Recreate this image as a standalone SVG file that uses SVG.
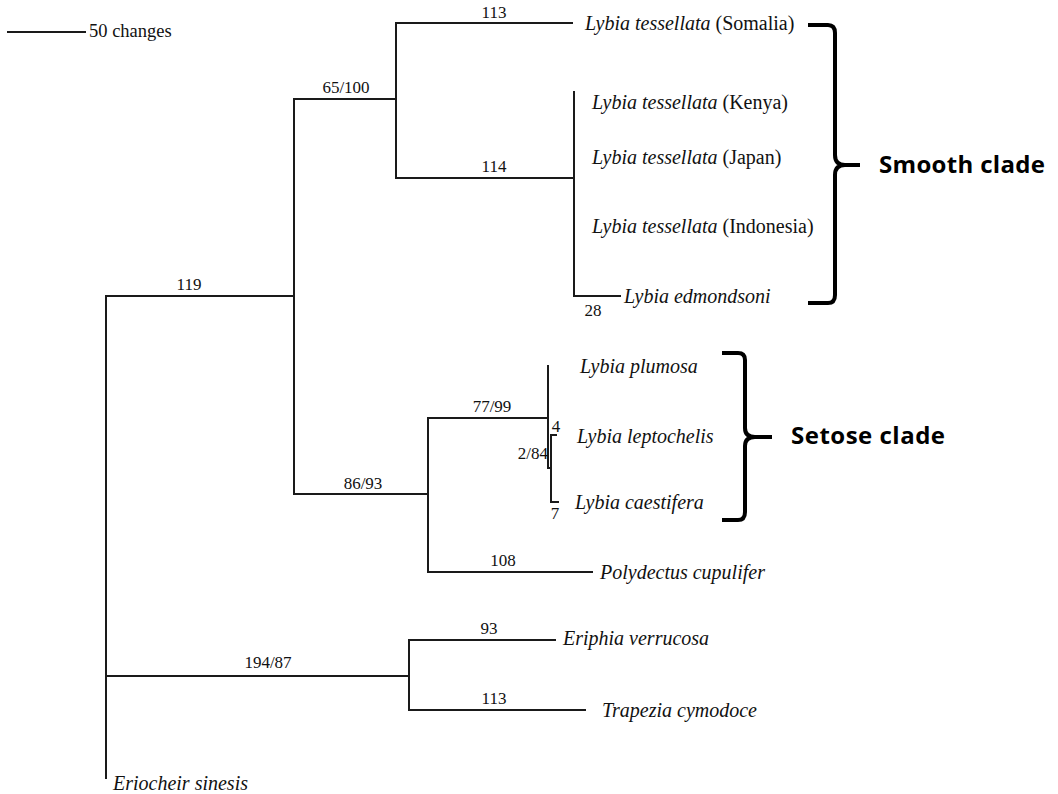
<svg xmlns="http://www.w3.org/2000/svg" width="1058" height="794" viewBox="0 0 1058 794">
<style>
.br{stroke:#1a1a1a;stroke-width:2;fill:none;stroke-linecap:square}
.bk{stroke:#000;stroke-width:4;fill:none;stroke-linejoin:round}
.lb{font-family:"Liberation Serif",serif;font-size:17px;fill:#111}
.sp{font-family:"Liberation Serif",serif;font-size:20px;fill:#111;font-style:italic}
.up{font-style:normal}
.cl{font-family:"Open Sans","Liberation Sans",sans-serif;font-weight:bold;font-size:24px;fill:#000}
</style>
<rect width="1058" height="794" fill="#fff"/>
<g id="scale">
<line class="br" x1="8" y1="32" x2="85" y2="32"/>
<text class="lb" x="89" y="37" style="font-size:18.5px">50 changes</text>
</g>
<g id="connectors">
<path class="br" d="M106,296 V778"/>
<path class="br" d="M106,296 H294"/>
<path class="br" d="M294,99 V494"/>
<path class="br" d="M294,99 H396"/>
<path class="br" d="M396,23 V178"/>
<path class="br" d="M396,23 H572"/>
<path class="br" d="M396,178 H574"/>
<path class="br" d="M574,92 V296 H620"/>
<path class="br" d="M294,494 H428"/>
<path class="br" d="M428,418 V572"/>
<path class="br" d="M428,418 H548"/>
<path class="br" d="M428,572 H592"/>
<path class="br" d="M548,366 V468"/>
<path class="br" d="M548,468 H551"/>
<path class="br" d="M551,435 V502"/>
<path class="br" d="M551,435 H556"/>
<path class="br" d="M551,502 H558"/>
<path class="br" d="M106,676 H409"/>
<path class="br" d="M409,640 V710"/>
<path class="br" d="M409,640 H555"/>
<path class="br" d="M409,710 H585"/>
</g>
<g id="branch-labels">
<text class="lb" x="189" y="290" text-anchor="middle">119</text>
<text class="lb" x="346" y="93" text-anchor="middle">65/100</text>
<text class="lb" x="494" y="18" text-anchor="middle">113</text>
<text class="lb" x="494" y="172" text-anchor="middle">114</text>
<text class="lb" x="593" y="316" text-anchor="middle">28</text>
<text class="lb" x="363" y="489" text-anchor="middle">86/93</text>
<text class="lb" x="492" y="412" text-anchor="middle">77/99</text>
<text class="lb" x="556" y="432" text-anchor="middle">4</text>
<text class="lb" x="548" y="459" text-anchor="end">2/84</text>
<text class="lb" x="555" y="519" text-anchor="middle">7</text>
<text class="lb" x="503" y="566" text-anchor="middle">108</text>
<text class="lb" x="268" y="668" text-anchor="middle">194/87</text>
<text class="lb" x="489" y="634" text-anchor="middle">93</text>
<text class="lb" x="494" y="704" text-anchor="middle">113</text>
</g>
<g id="taxon-somalia"><text class="sp" x="585" y="30">Lybia tessellata <tspan class="up">(Somalia)</tspan></text></g>
<g id="taxon-kenya"><text class="sp" x="592" y="109">Lybia tessellata <tspan class="up">(Kenya)</tspan></text></g>
<g id="taxon-japan"><text class="sp" x="592" y="164">Lybia tessellata <tspan class="up">(Japan)</tspan></text></g>
<g id="taxon-indonesia"><text class="sp" x="592" y="233">Lybia tessellata <tspan class="up">(Indonesia)</tspan></text></g>
<g id="taxon-edmondsoni"><text class="sp" x="624" y="303">Lybia edmondsoni</text></g>
<g id="taxon-plumosa"><text class="sp" x="580" y="373">Lybia plumosa</text></g>
<g id="taxon-leptochelis"><text class="sp" x="577" y="443">Lybia leptochelis</text></g>
<g id="taxon-caestifera"><text class="sp" x="575" y="509">Lybia caestifera</text></g>
<g id="taxon-polydectus"><text class="sp" x="600" y="579">Polydectus cupulifer</text></g>
<g id="taxon-eriphia"><text class="sp" x="563" y="645">Eriphia verrucosa</text></g>
<g id="taxon-trapezia"><text class="sp" x="602" y="717">Trapezia cymodoce</text></g>
<g id="taxon-eriocheir"><text class="sp" x="113" y="790">Eriocheir sinesis</text></g>
<g id="smooth-clade">
<path class="bk" d="M808,25 H828 Q835,25 835,33 V155 Q835,165 845,165 H860 M845,165 Q835,165 835,175 V295 Q835,303 828,303 H808"/>
<text class="cl" x="879" y="173" font-family="Liberation Sans" textLength="166">Smooth clade</text>
</g>
<g id="setose-clade">
<path class="bk" d="M722,353 H738 Q745,353 745,360 V428 Q745,437 755,437 H772 M755,437 Q745,437 745,446 V512 Q745,520 738,520 H722"/>
<text class="cl" x="791" y="444" font-family="Liberation Sans" textLength="154">Setose clade</text>
</g>
</svg>
